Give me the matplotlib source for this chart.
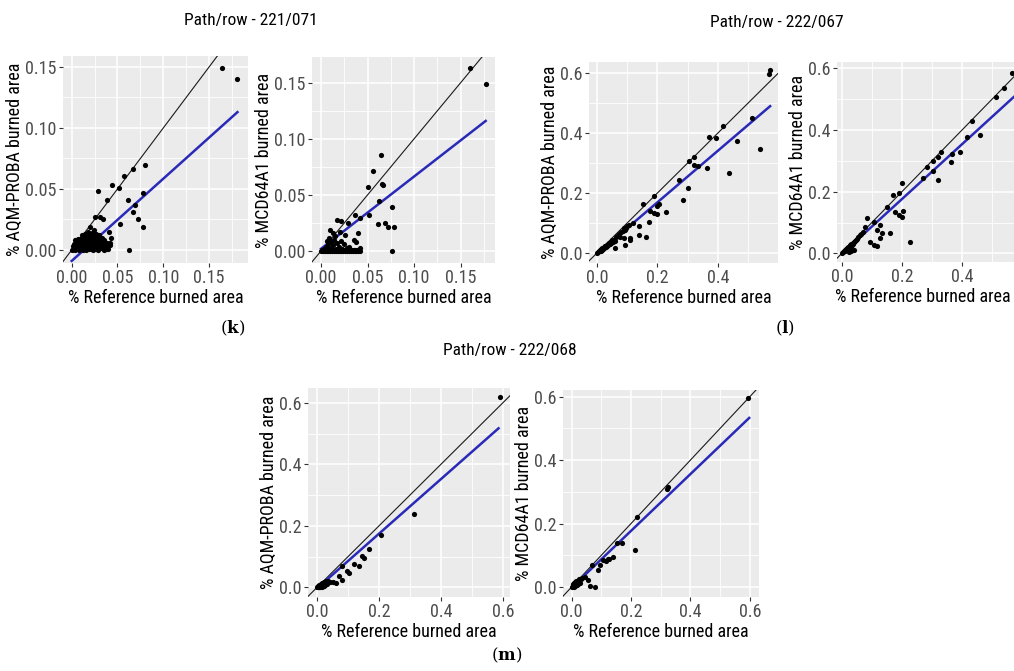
import matplotlib
matplotlib.use("Agg")
import matplotlib.pyplot as plt
from matplotlib import font_manager

# ---- data (x = % reference burned area, y = product) ----
# Path/row 221/071, AQM-PROBA
k_aqm_x = [0.164, 0.181, 0.080, 0.067, 0.057, 0.044, 0.052, 0.029, 0.038, 0.062, 0.0775, 0.069,
           0.067, 0.072, 0.078, 0.053, 0.063, 0.025, 0.031, 0.0345, 0.041, 0.043, 0.042, 0.020, 0.024,
           0.000, 0.002, 0.004, 0.005, 0.006, 0.008, 0.008, 0.010, 0.010, 0.012, 0.012, 0.013, 0.014,
           0.015, 0.016, 0.016, 0.017, 0.018, 0.019, 0.020, 0.020, 0.021, 0.022, 0.023, 0.024, 0.025,
           0.026, 0.027, 0.028, 0.029, 0.030, 0.031, 0.032, 0.033, 0.034, 0.035, 0.036, 0.038, 0.040,
           0.042, 0.003, 0.006, 0.009, 0.011, 0.014, 0.018, 0.022, 0.026, 0.030,
           0.001, 0.003, 0.005, 0.007, 0.009, 0.011, 0.013, 0.015, 0.017, 0.019, 0.021, 0.023, 0.025,
           0.027, 0.029, 0.031, 0.033, 0.035, 0.037, 0.039, 0.007, 0.011, 0.015, 0.019, 0.023, 0.027,
           0.031, 0.035, 0.004, 0.009, 0.013, 0.017, 0.021, 0.025, 0.029, 0.033, 0.037]
k_aqm_y = [0.149, 0.140, 0.070, 0.066, 0.061, 0.053, 0.051, 0.048, 0.041, 0.041, 0.0465, 0.037,
           0.031, 0.025, 0.019, 0.021, 0.000, 0.027, 0.027, 0.025, 0.015, 0.0096, 0.0055, 0.019, 0.016,
           0.000, 0.001, 0.000, 0.003, 0.001, 0.000, 0.004, 0.002, 0.006, 0.000, 0.004, 0.008, 0.002,
           0.006, 0.000, 0.010, 0.004, 0.008, 0.001, 0.005, 0.011, 0.003, 0.008, 0.000, 0.006, 0.010,
           0.002, 0.005, 0.009, 0.000, 0.004, 0.007, 0.002, 0.010, 0.005, 0.000, 0.003, 0.006, 0.001,
           0.004, 0.005, 0.007, 0.009, 0.012, 0.013, 0.015, 0.014, 0.013, 0.012,
           0.003, 0.002, 0.006, 0.004, 0.002, 0.005, 0.003, 0.009, 0.002, 0.007, 0.001, 0.004, 0.007,
           0.001, 0.006, 0.002, 0.005, 0.008, 0.001, 0.003, 0.009, 0.010, 0.011, 0.012, 0.011, 0.010,
           0.009, 0.007, 0.008, 0.004, 0.006, 0.003, 0.009, 0.003, 0.008, 0.004, 0.005]
k_aqm_fit = ([0.0, 0.181], [-0.009, 0.113])

# Path/row 221/071, MCD64A1
k_mcd_x = [0.160, 0.177, 0.065, 0.056, 0.067, 0.051, 0.066, 0.062, 0.076, 0.052, 0.037, 0.042,
           0.061, 0.069, 0.072, 0.078, 0.076, 0.017, 0.029, 0.0097, 0.013, 0.020, 0.026, 0.015, 0.040,
           0.038, 0.042, 0.035, 0.030, 0.022,
           0.000, 0.002, 0.004, 0.006, 0.008, 0.010, 0.012, 0.014, 0.016, 0.018, 0.020, 0.022, 0.024,
           0.026, 0.028, 0.030, 0.032, 0.034, 0.036, 0.038, 0.040, 0.042, 0.003, 0.005, 0.007, 0.008,
           0.010, 0.011, 0.013, 0.014, 0.016, 0.017, 0.019, 0.021, 0.023, 0.025, 0.028, 0.006, 0.009,
           0.001, 0.003, 0.005, 0.007, 0.009, 0.011, 0.013, 0.015, 0.017, 0.019, 0.021, 0.023, 0.025,
           0.027, 0.029, 0.031, 0.033, 0.035, 0.037, 0.039, 0.041]
k_mcd_y = [0.163, 0.149, 0.086, 0.071, 0.059, 0.057, 0.060, 0.045, 0.039, 0.032, 0.032, 0.029,
           0.024, 0.025, 0.021, 0.021, 0.000, 0.028, 0.025, 0.019, 0.016, 0.017, 0.014, 0.013, 0.016,
           0.008, 0.0024, 0.010, 0.004, 0.027,
           0.0, 0.0, 0.0, 0.0, 0.0, 0.0, 0.0, 0.0, 0.0, 0.0, 0.0, 0.0, 0.0,
           0.0, 0.0, 0.0, 0.0, 0.0, 0.0, 0.0, 0.0, 0.0, 0.002, 0.004, 0.001, 0.006,
           0.003, 0.008, 0.005, 0.010, 0.002, 0.007, 0.004, 0.009, 0.002, 0.006, 0.003, 0.009, 0.012,
           0.001, 0.001, 0.001, 0.001, 0.001, 0.001, 0.001, 0.001, 0.001, 0.001, 0.001, 0.001, 0.001,
           0.001, 0.001, 0.001, 0.001, 0.001, 0.001, 0.001, 0.001]
k_mcd_fit = ([0.0, 0.177], [0.002, 0.116])

# Path/row 222/067, AQM-PROBA
l_aqm_x = [0.572, 0.567, 0.511, 0.539, 0.461, 0.436, 0.417, 0.369, 0.392, 0.322, 0.303, 0.322,
           0.333, 0.363, 0.270, 0.300, 0.283, 0.189, 0.153, 0.205, 0.200, 0.176, 0.187, 0.197, 0.228,
           0.172, 0.163, 0.139, 0.140, 0.100, 0.094, 0.109, 0.091, 0.094, 0.111, 0.061,
           0.002, 0.005, 0.008, 0.010, 0.012, 0.014, 0.016, 0.018, 0.020, 0.022, 0.024, 0.026, 0.028,
           0.030, 0.032, 0.034, 0.036, 0.038, 0.040, 0.042, 0.045, 0.048, 0.050, 0.053, 0.056, 0.060,
           0.064, 0.068, 0.072, 0.076, 0.080, 0.085, 0.090, 0.095, 0.105, 0.118]
l_aqm_y = [0.611, 0.596, 0.448, 0.345, 0.374, 0.267, 0.423, 0.386, 0.384, 0.320, 0.307, 0.293,
           0.290, 0.282, 0.243, 0.215, 0.178, 0.190, 0.165, 0.163, 0.156, 0.141, 0.132, 0.129, 0.137,
           0.105, 0.054, 0.090, 0.060, 0.090, 0.077, 0.049, 0.049, 0.027, 0.043, 0.016,
           0.000, 0.004, 0.006, 0.010, 0.008, 0.013, 0.011, 0.016, 0.014, 0.020, 0.018, 0.022, 0.025,
           0.020, 0.028, 0.024, 0.031, 0.027, 0.035, 0.030, 0.038, 0.033, 0.042, 0.036, 0.045, 0.040,
           0.052, 0.058, 0.062, 0.055, 0.070, 0.075, 0.082, 0.085, 0.092, 0.100]
l_aqm_fit = ([0.0, 0.572], [-0.003, 0.489])

# Path/row 222/067, MCD64A1
l_mcd_x = [0.567, 0.541, 0.514, 0.433, 0.417, 0.459, 0.392, 0.367, 0.364, 0.331, 0.319, 0.302,
           0.283, 0.302, 0.269, 0.319, 0.201, 0.189, 0.172, 0.150, 0.205, 0.189, 0.200, 0.178, 0.161,
           0.228, 0.128, 0.133, 0.126, 0.108, 0.117, 0.094, 0.117, 0.083, 0.078, 0.106,
           0.002, 0.005, 0.008, 0.010, 0.012, 0.014, 0.016, 0.018, 0.020, 0.022, 0.024, 0.026, 0.028,
           0.030, 0.032, 0.034, 0.036, 0.038, 0.040, 0.043, 0.046, 0.050, 0.055, 0.060, 0.065, 0.070,
           0.030, 0.040, 0.025]
l_mcd_y = [0.585, 0.536, 0.506, 0.430, 0.379, 0.384, 0.330, 0.322, 0.295, 0.330, 0.312, 0.300,
           0.281, 0.268, 0.245, 0.238, 0.229, 0.195, 0.189, 0.151, 0.138, 0.124, 0.119, 0.135, 0.065,
           0.038, 0.092, 0.065, 0.049, 0.027, 0.024, 0.038, 0.076, 0.114, 0.086, 0.103,
           0.000, 0.004, 0.007, 0.010, 0.008, 0.013, 0.012, 0.017, 0.015, 0.020, 0.019, 0.024, 0.026,
           0.022, 0.030, 0.028, 0.034, 0.031, 0.038, 0.040, 0.042, 0.047, 0.052, 0.058, 0.063, 0.068,
           0.008, 0.012, 0.003]
l_mcd_fit = ([0.0, 0.572], [-0.002, 0.507])

# Path/row 222/068, AQM-PROBA
m_aqm_x = [0.590, 0.313, 0.208, 0.169, 0.145, 0.152, 0.120, 0.136, 0.080, 0.096, 0.104, 0.072,
           0.080, 0.053, 0.042, 0.031, 0.060, 0.037,
           0.000, 0.003, 0.005, 0.007, 0.009, 0.011, 0.013, 0.015, 0.017, 0.019, 0.021, 0.023, 0.025,
           0.027, 0.004, 0.008, 0.012, 0.016, 0.020, 0.024, 0.028]
m_aqm_y = [0.620, 0.240, 0.170, 0.124, 0.102, 0.095, 0.076, 0.071, 0.069, 0.053, 0.048, 0.0375,
           0.024, 0.0166, 0.0166, 0.0115, 0.013, 0.022,
           0.000, 0.001, 0.003, 0.000, 0.004, 0.002, 0.006, 0.003, 0.008, 0.005, 0.010, 0.006, 0.012,
           0.009, 0.006, 0.009, 0.011, 0.013, 0.015, 0.017, 0.020]
m_aqm_fit = ([0.0, 0.586], [-0.003, 0.517])

# Path/row 222/068, MCD64A1
m_mcd_x = [0.595, 0.325, 0.320, 0.219, 0.213, 0.168, 0.152, 0.140, 0.127, 0.115, 0.095, 0.090,
           0.067, 0.062, 0.080, 0.056, 0.045, 0.034, 0.107, 0.123,
           0.000, 0.003, 0.005, 0.007, 0.009, 0.011, 0.013, 0.015, 0.017, 0.019, 0.021, 0.023, 0.025,
           0.027, 0.004, 0.008, 0.012, 0.016, 0.020, 0.024, 0.030]
m_mcd_y = [0.595, 0.315, 0.308, 0.220, 0.117, 0.140, 0.138, 0.094, 0.087, 0.083, 0.069, 0.054,
           0.069, 0.004, 0.001, 0.022, 0.032, 0.027, 0.085, 0.087,
           0.000, 0.002, 0.004, 0.001, 0.006, 0.003, 0.008, 0.005, 0.011, 0.007, 0.014, 0.009, 0.017,
           0.012, 0.008, 0.012, 0.015, 0.018, 0.020, 0.024, 0.026]
m_mcd_fit = ([0.0, 0.598], [-0.002, 0.533])

small_ticks = [0.0, 0.05, 0.10, 0.15]
small_labels = ["0.00", "0.05", "0.10", "0.15"]
big_ticks = [0.0, 0.2, 0.4, 0.6]
big_labels = ["0.0", "0.2", "0.4", "0.6"]

titles = ["Path/row - 221/071", "Path/row - 222/067", "Path/row - 222/068"]
captions = ["k", "l", "m"]

# ---- fonts: a narrow sans if one is there, else Liberation Sans ----
names = {f.name for f in font_manager.fontManager.ttflist}
if "Liberation Sans Narrow" in names:
    FAM, FS, TFS = ["Liberation Sans Narrow", "DejaVu Sans"], 13.5, 13
elif "Roboto Condensed" in names:
    FAM, FS, TFS = ["Roboto Condensed", "DejaVu Sans"], 13, 12.5
else:
    FAM, FS, TFS = ["Liberation Sans", "DejaVu Sans"], 11.5, 12
plt.rcParams["font.family"] = FAM
plt.rcParams["mathtext.fontset"] = "dejavuserif"

W, H = 1014, 671
fig = plt.figure(figsize=(W / 100, H / 100), dpi=100)
fig.patch.set_facecolor("white")


def px_axes(x0, x1, y0, y1):
    # pixel box (top-left origin) -> figure axes
    return fig.add_axes([x0 / W, 1 - y1 / H, (x1 - x0) / W, (y1 - y0) / H])


def panel(box, xs, ys, fit, xlim, ylim, ticks, labels, minor, ylabel):
    ax = px_axes(*box)
    ax.set_facecolor("#EBEBEB")
    for s in ax.spines.values():
        s.set_visible(False)
    ax.set_xticks(ticks)
    ax.set_xticklabels(labels)
    ax.set_yticks(ticks)
    ax.set_yticklabels(labels)
    # limits after ticks, otherwise set_xticks widens the view
    ax.set_xlim(*xlim)
    ax.set_ylim(*ylim)
    for m in minor:
        ax.axvline(m, color="white", lw=0.6, zorder=0.5)
        ax.axhline(m, color="white", lw=0.6, zorder=0.5)
    ax.grid(True, color="white", lw=1.1, zorder=0.6)
    ax.set_axisbelow(True)
    ax.tick_params(length=3, width=0.8, color="#333333", labelcolor="#4D4D4D",
                   labelsize=FS, pad=1.5)
    ax.axline((0, 0), slope=1, color="#1a1a1a", lw=0.8, zorder=2)
    ax.plot(fit[0], fit[1], color="#2A2AB8", lw=1.8, zorder=3)
    ax.scatter(xs, ys, s=14, color="black", linewidths=0, zorder=4)
    ax.set_xlabel("% Reference burned area", fontsize=FS, labelpad=1.5)
    ax.set_ylabel(ylabel, fontsize=FS, labelpad=1)
    return ax


aqm = "% AQM-PROBA burned area"
mcd = "% MCD64A1 burned area"
sm_minor = [0.025, 0.075, 0.125, 0.175]
bg_minor = [0.1, 0.3, 0.5]

panel((63, 248, 56, 263), k_aqm_x, k_aqm_y, k_aqm_fit, (-0.0095, 0.1925), (-0.0107, 0.159),
      small_ticks, small_labels, sm_minor, aqm)
panel((312, 495, 57, 263), k_mcd_x, k_mcd_y, k_mcd_fit, (-0.0097, 0.187), (-0.0107, 0.173),
      small_ticks, small_labels, sm_minor, mcd)
panel((589, 778, 62, 263), l_aqm_x, l_aqm_y, l_aqm_fit, (-0.026, 0.598), (-0.033, 0.636),
      big_ticks, big_labels, bg_minor, aqm)
ax4 = panel((837, 1016, 62, 262), l_mcd_x, l_mcd_y, l_mcd_fit, (-0.016, 0.58), (-0.028, 0.621),
            big_ticks, big_labels, bg_minor, mcd)
# the reference is cropped on the right; nudge this axis title inside the canvas
ax4.xaxis.label.set_x(0.48)
panel((308, 510, 388, 597), m_aqm_x, m_aqm_y, m_aqm_fit, (-0.029, 0.623), (-0.031, 0.648),
      big_ticks, big_labels, bg_minor, aqm)
panel((563, 759, 390, 597), m_mcd_x, m_mcd_y, m_mcd_fit, (-0.029, 0.631), (-0.0315, 0.621),
      big_ticks, big_labels, bg_minor, mcd)

for t, (cx, cy) in zip(titles, [(251, 21), (777, 22), (510, 350)]):
    fig.text(cx / W, 1 - cy / H, t, ha="center", va="center", fontsize=TFS)

for c, (cx, cy) in zip(captions, [(233, 328), (785, 328), (507, 655)]):
    fig.text(cx / W, 1 - cy / H, r"($\mathbf{" + c + "}$)", ha="center", va="center",
             fontsize=12, family=["DejaVu Serif"])

fig.savefig("out.png", dpi=100, facecolor="white")
